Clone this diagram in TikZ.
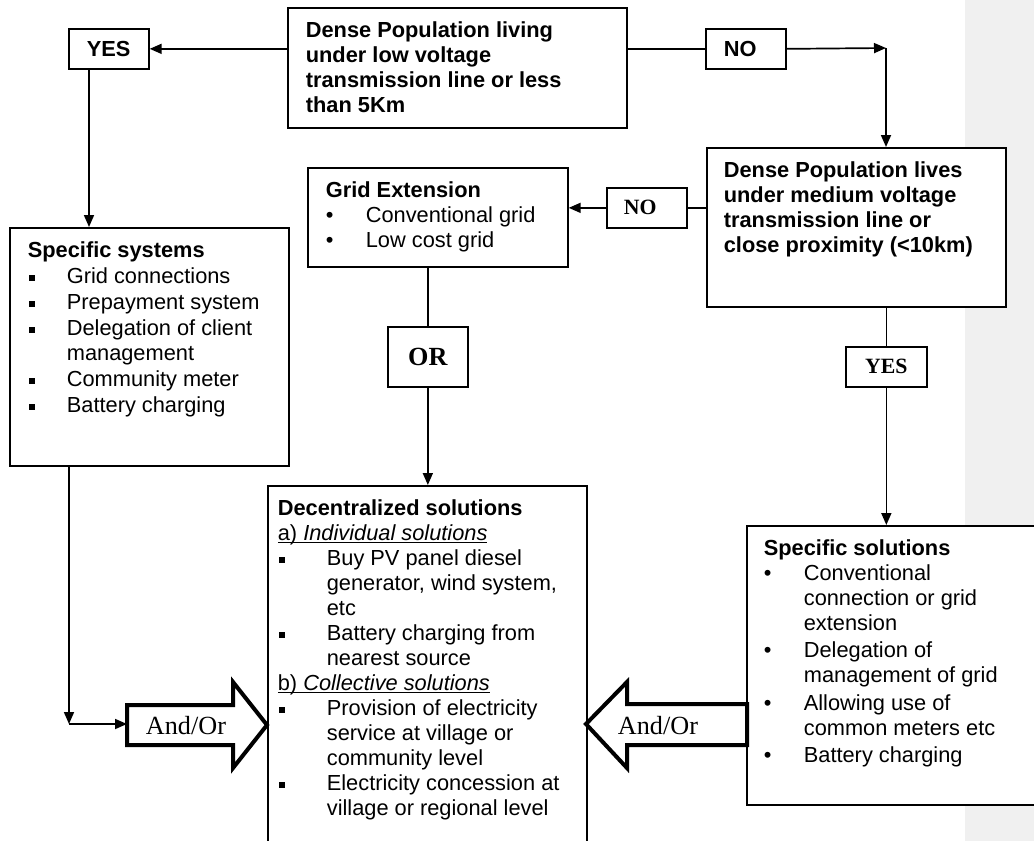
\documentclass[tikz,border=0pt]{standalone}
\usepackage{fontspec}
\setmainfont{Liberation Sans}
\newfontfamily\timesfont{Liberation Serif}
\usetikzlibrary{arrows.meta}

\newcommand\sqb[1]{\makebox[#1pt][l]{\hspace{1pt}\rule[2pt]{6pt}{6pt}}}
\newcommand\rdb{\makebox[40pt][l]{\textbullet}}
\newcommand\ulin[1]{\setbox0\hbox{#1}\rlap{\rule[-3pt]{\wd0}{1.4pt}}\box0}

\tikzset{
  wire/.style={line width=1.7},
  link/.style={wire, -{Triangle[length=12pt,width=10pt]}},
  box/.style={draw, line width=1.7, fill=white, anchor=north west, inner xsep=18, inner ysep=12, font=\fontsize{21.8}{25}\selectfont},
  tag/.style={draw, line width=1.7, fill=white, anchor=north west, minimum width=80, minimum height=40, font=\bfseries\fontsize{21.8}{25}\selectfont},
  tagl/.style={tag, inner xsep=18, text width=44, align=left},
  fatarrow/.style={line width=4, line join=miter, fill=white},
  andor/.style={font=\timesfont\fontsize{26.2}{30}\selectfont},
}

\begin{document}
\begin{tikzpicture}[x=1pt, y=-1pt]
  \useasboundingbox (0,0) rectangle (1034,841);
  % comment margin
  \fill[black!6] (965,0) rectangle (1034,841);

  % question boxes
  \node[box] (dense) at (287,7) {\parbox[t][96pt][t]{303pt}{\bfseries\strut Dense Population living\\under low voltage\\transmission line or less\\than 5Km}};
  \node[box, inner xsep=17] (med) at (706,147) {\parbox[t][135pt][t]{265pt}{\bfseries\strut Dense Population lives\\under medium voltage\\transmission line or\\close proximity (<10km)}};

  % answer tags
  \node[tagl] (yesA) at (68,28) {YES};
  \node[tagl] (noA) at (705,28) {NO};
  \node[tagl, inner xsep=17, text width=46, font=\timesfont\bfseries\fontsize{21.8}{25}\selectfont] (noB) at (606,187) {NO};
  \node[tag, minimum width=81, font=\timesfont\bfseries\fontsize{21.8}{25}\selectfont] (yesB) at (845,346) {YES};
  \node[tag, minimum height=60, font=\timesfont\bfseries\fontsize{26.2}{30}\selectfont] (orB) at (387,326) {OR};

  % solution boxes
  \node[box] (grid) at (307,167) {\parbox[t][75pt][t]{224pt}{\strut\textbf{Grid Extension}\\\rdb Conventional grid\\\rdb Low cost grid}};
  \node[box] (sys) at (9,227) {\parbox[t][214pt][t]{243pt}{\strut\textbf{Specific systems}\\[1pt]
    \sqb{39}Grid connections\\[1pt]
    \sqb{39}Prepayment system\\[1pt]
    \sqb{39}Delegation of client\\\hspace*{39pt}management\\[1pt]
    \sqb{39}Community meter\\[1pt]
    \sqb{39}Battery charging}};
  \node[box, inner xsep=10] (dec) at (267,485) {\parbox[t][351pt][t]{299pt}{\strut\textbf{Decentralized solutions}\\
    \ulin{a) \textit{Individual solutions}}\\
    \sqb{49}Buy PV panel diesel\\\hspace*{49pt}generator, wind system,\\\hspace*{49pt}etc\\
    \sqb{49}Battery charging from\\\hspace*{49pt}nearest source\\
    \ulin{b) \textit{Collective solutions}}\\
    \sqb{49}Provision of electricity\\\hspace*{49pt}service at village or\\\hspace*{49pt}community level\\
    \sqb{49}Electricity concession at\\\hspace*{49pt}village or regional level}};
  \node[box, inner xsep=17] (sol) at (746,525) {\parbox[t][255pt][t]{260pt}{\strut\textbf{Specific solutions}\\
    \rdb Conventional\\\hspace*{40pt}connection or grid\\\hspace*{40pt}extension\\[2.5pt]
    \rdb Delegation of\\\hspace*{40pt}management of grid\\[2.5pt]
    \rdb Allowing use of\\\hspace*{40pt}common meters etc\\[2.5pt]
    \rdb Battery charging}};

  % connectors
  \coordinate (yesAdrop) at ([xshift=21]yesA.south west);
  \coordinate (turnA) at (886,48);
  \coordinate (turnB) at (69,724);
  \coordinate (andTail) at (127,724);
  \draw[link] (yesA.east -| dense.west) -- (yesA.east);
  \draw[link] (yesAdrop) -- (yesAdrop |- sys.north);
  \draw[wire] (dense.east |- noA.west) -- (noA.west);
  \draw[link] (noA.east) -- (turnA);
  \draw[link] (turnA) -- (turnA |- med.north);
  \draw[wire] (med.west |- noB.east) -- (noB.east);
  \draw[link] (noB.west) -- (noB.west -| grid.east);
  \draw[wire] (orB.north |- grid.south) -- (orB.north);
  \draw[link] (orB.south) -- (orB.south |- dec.north);
  \draw[wire] (yesB.north |- med.south) -- (yesB.north);
  \draw[link] (yesB.south) -- (yesB.south |- sol.north);
  \draw[link] (turnB |- sys.south) -- (turnB);
  \draw[link] (turnB) -- (andTail);

  % block arrows
  \draw[fatarrow] (127,705) -- (233,705) -- (233,682) -- (267,725) -- (233,768) -- (233,745) -- (127,745) -- cycle;
  \node[andor] (andL) at (186,726) {And/Or};
  \draw[fatarrow] (747,704) -- (627,704) -- (627,682) -- (586,724) -- (627,768) -- (627,745) -- (747,745) -- cycle;
  \node[andor] (andR) at (658,726) {And/Or};
\end{tikzpicture}
\end{document}
